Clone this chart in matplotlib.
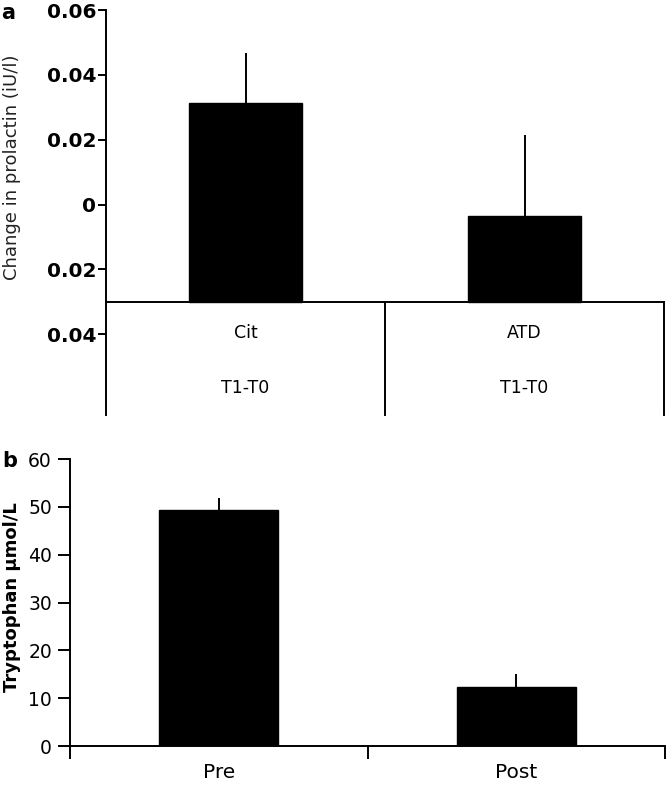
#!/usr/bin/env python3
"""Prolactin change (a) and tryptophan levels (b), two stacked bar panels."""

import matplotlib
matplotlib.use("Agg")
import matplotlib.pyplot as plt
import numpy as np

plt.rcParams["font.family"] = ["DejaVu Sans"]

# --- panel a data ---
groups_a = ["Cit", "ATD"]
sublabels_a = ["T1-T0", "T1-T0"]
prl_change = [0.0314, -0.0034]
prl_err = [0.0154, 0.0249]
baseline_a = -0.03
yticks_a = [-0.04, -0.02, 0.0, 0.02, 0.04, 0.06]
yticklabels_a = ["0.04", "0.02", "0", "0.02", "0.04", "0.06"]

# --- panel b data ---
groups_b = ["Pre", "Post"]
trp_level = [49.4, 12.3]
trp_err = [2.5, 2.7]
yticks_b = [0, 10, 20, 30, 40, 50, 60]

W, H = 668, 785
fig = plt.figure(figsize=(W / 100, H / 100), dpi=100)


def px_box(left, top, right, bottom):
    return [left / W, 1 - bottom / H, (right - left) / W, (bottom - top) / H]


LW = 1.4

# ---------------- panel a ----------------
ax = fig.add_axes(px_box(106, 10, 664, 415))
ax.set_xlim(0.5, 2.5)
ax.set_ylim(-0.0649, 0.06)
xa = np.arange(1, len(groups_a) + 1)
heights = np.array(prl_change) - baseline_a
ax.bar(xa, heights, width=0.405, bottom=baseline_a, color="black",
       edgecolor="black", zorder=2)
ax.errorbar(xa, prl_change, yerr=[np.zeros(len(xa)), prl_err], fmt="none",
            ecolor="black", elinewidth=LW, capsize=0, zorder=3)
ax.plot([0.5, 2.5], [baseline_a, baseline_a], color="black", lw=LW,
        clip_on=False, zorder=4)
y0 = ax.get_ylim()[0]
for xs in [1.5, 2.5]:
    ax.plot([xs, xs], [y0, baseline_a], color="black", lw=LW, clip_on=False)
for x, g, s in zip(xa, groups_a, sublabels_a):
    ax.text(x, -0.0397, g, ha="center", va="center", fontsize=12.5)
    ax.text(x, -0.0566, s, ha="center", va="center", fontsize=12.5)

for side in ["top", "right", "bottom"]:
    ax.spines[side].set_visible(False)
ax.spines["left"].set_linewidth(LW)
ax.set_xticks([])
ax.set_yticks(yticks_a)
ax.set_yticklabels(yticklabels_a, fontsize=14.5, fontweight="bold")
ax.tick_params(axis="y", direction="out", length=6, width=LW, pad=1)

fig.text(12 / W, 1 - 167 / H, "Change in prolactin (iU/l)", rotation=90,
         ha="center", va="center", fontsize=13, color="#222222")
fig.text(8 / W, 1 - 13 / H, "a", ha="center", va="center", fontsize=15,
         fontweight="bold")

# ---------------- panel b ----------------
bx = fig.add_axes(px_box(70, 459, 665, 746))
bx.set_xlim(0.5, 2.5)
bx.set_ylim(0, 60)
xb = np.arange(1, len(groups_b) + 1)
bx.bar(xb, trp_level, width=0.4, color="black", edgecolor="black", zorder=2)
bx.errorbar(xb, trp_level, yerr=[np.zeros(len(xb)), trp_err], fmt="none",
            ecolor="black", elinewidth=LW, capsize=0, zorder=3)
for x, g in zip(xb, groups_b):
    bx.text(x, -5.6, g, ha="center", va="center", fontsize=14.5)

for side in ["top", "right"]:
    bx.spines[side].set_visible(False)
bx.spines["left"].set_linewidth(LW)
bx.spines["bottom"].set_linewidth(LW)
bx.set_xticks([0.5, 1.5, 2.5])
bx.set_xticklabels([])
bx.tick_params(axis="x", direction="out", length=9, width=LW)
bx.set_yticks(yticks_b)
bx.set_yticklabels([str(v) for v in yticks_b], fontsize=13.5)
bx.tick_params(axis="y", direction="out", length=9, width=LW, pad=4)

fig.text(12 / W, 1 - 597 / H, "Tryptophan µmol/L", rotation=90,
         ha="center", va="center", fontsize=13, fontweight="bold")
fig.text(10 / W, 1 - 461 / H, "b", ha="center", va="center", fontsize=15,
         fontweight="bold")

fig.savefig("out.png", dpi=100)
plt.close(fig)
